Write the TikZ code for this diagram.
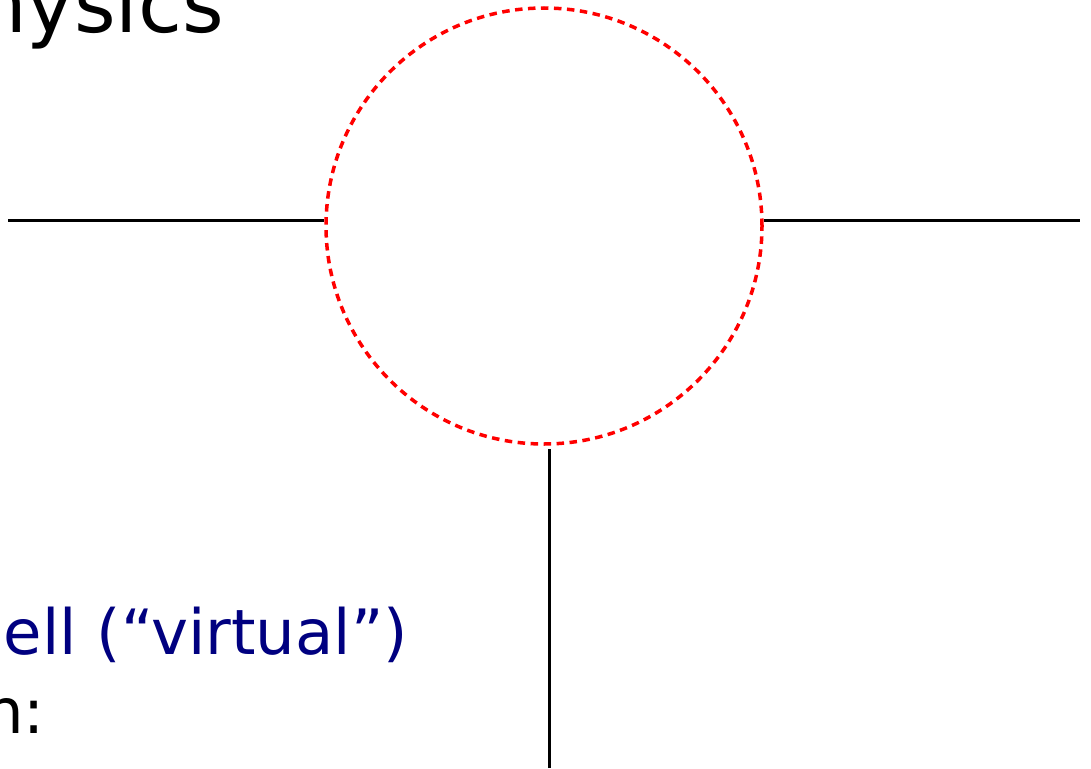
\documentclass[tikz,border=0pt]{standalone}
\usepackage{fontspec}
\setmainfont{DejaVu Sans}
\definecolor{virtualblue}{RGB}{0,0,128}
\definecolor{blobred}{RGB}{255,0,0}
\begin{document}
\begin{tikzpicture}[x=1pt,y=-1pt,
      leg/.style={line width=3pt,black},
      blob/.style={draw=blobred,line width=3.5pt,dash pattern=on 7.5pt off 5.5pt,circle,inner sep=0pt,minimum size=436pt},
      txt/.style={anchor=base west,inner sep=0pt,font=\fontsize{62.5}{75}\selectfont}]
    \useasboundingbox (0,0) rectangle (1091,768);
    \clip (0,0) rectangle (1091,768);
    % vertex blob
    \node[blob] (loop) at (544,226) {};
    \coordinate (inL) at (8,220);
    \coordinate (inR) at (1080,220);
    \coordinate (out) at (549,768);
    \draw[leg] (inL) -- (inL -| loop.west);
    \draw[leg] (inR -| loop.east) -- (inR);
    \draw[leg,shorten >=3pt] (out) -- (out |- loop.south);
    % cut-off captions
    \node[txt,font=\fontsize{80}{96}\selectfont] (title) at (-24,33) {hysics};
    \node[txt,text=virtualblue] (virt) at (3.5,654) {ell (“virtual”)};
    \node[txt] (colon) at (-16,733) {n:};
\end{tikzpicture}
\end{document}
